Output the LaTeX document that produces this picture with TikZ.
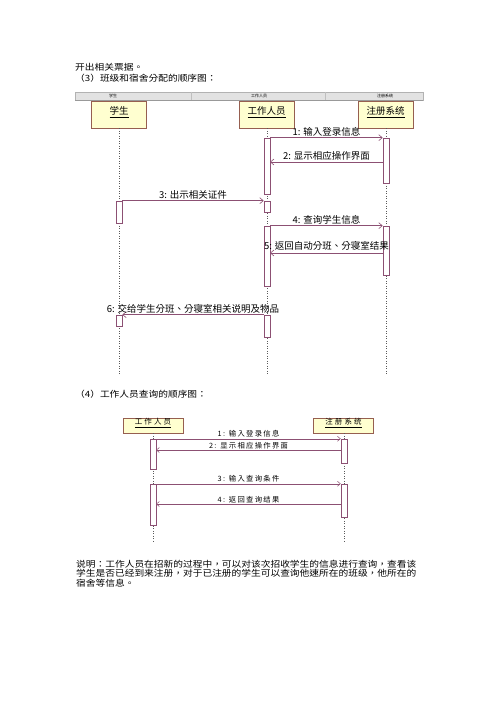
\documentclass[tikz,border=0pt]{standalone}
\usepackage{fontspec}
\usepackage{graphicx}
\setmainfont{Noto Sans CJK TC}
\newfontfamily\cjksp[LetterSpace=18]{Noto Sans CJK TC}
\newfontfamily\cjkspb[LetterSpace=28]{Noto Sans CJK TC}
\usetikzlibrary{arrows.meta}
\definecolor{msgc}{RGB}{140,80,115}
\definecolor{boxfill}{RGB}{255,255,208}
\definecolor{boxdraw}{RGB}{150,95,80}
\definecolor{bandfill}{RGB}{226,226,226}
\definecolor{lifec}{RGB}{90,90,90}
\newcommand{\wide}[1]{\scalebox{1.13}[1]{#1}}
\tikzset{
 txt/.style={anchor=west, inner sep=0pt, font=\fontsize{8.6}{8.6}\selectfont},
 band/.style={draw=gray!60, fill=bandfill, line width=0.4pt},
 bandlbl/.style={font=\fontsize{4}{4}\selectfont, inner sep=0pt},
 objbox/.style={draw=boxdraw, fill=boxfill, line width=0.7pt, inner sep=0pt, minimum width=55pt, minimum height=27pt},
 objtxt/.style={inner sep=0pt, font=\fontsize{9.5}{9.5}\selectfont},
 objboxs/.style={draw=boxdraw, fill=boxfill, line width=0.6pt, inner sep=0pt, minimum width=60pt, minimum height=15pt},
 objtxts/.style={inner sep=0pt, font=\cjkspb\fontsize{7.5}{7.5}\selectfont},
 life/.style={lifec, dotted, line width=0.5pt},
 act/.style={draw=msgc, fill=white, line width=0.6pt, minimum width=6pt, inner sep=0pt},
 msg/.style={draw=msgc, line width=0.6pt, -{Straight Barb[length=3.5pt,width=6pt]}},
 msglbl/.style={font=\fontsize{9.5}{9.5}\selectfont, inner sep=1.2pt, text=black},
 msgs/.style={draw=msgc, line width=0.5pt, -{Straight Barb[length=3pt,width=5pt]}},
 msglbls/.style={font=\cjksp\fontsize{7.3}{7.3}\selectfont, inner sep=1pt, text=black},
}
\begin{document}
\begin{tikzpicture}[x=1pt,y=-1pt]
\useasboundingbox[fill=white] (0,0) rectangle (500,706);

% top text
\node[txt] (t1) at (75,67) {\wide{开出相关票据。}};
\node[txt] (t2) at (75,78) {\wide{（3）班级和宿舍分配的顺序图：}};

% header band
\draw[band] (75,92) rectangle (423,100);
\draw[gray!50, line width=0.4pt] (191,92) -- (191,100);
\draw[gray!50, line width=0.4pt] (325,92) -- (325,100);
\draw[gray!80, line width=0.5pt] (75,100) -- (423,100);
\node[bandlbl] (h1) at (113,96) {学生};
\node[bandlbl] (h2) at (259,96) {工作人员};
\node[bandlbl] (h3) at (385,96) {注册系统};

% objects
\node[objbox] (stu) at (119,114.5) {};
\node[objbox] (wrk) at (266.5,114.5) {};
\node[objbox] (reg) at (385.5,114.5) {};
\node[objtxt] (stuT) at (119,112) {\underline{学生}};
\node[objtxt] (wrkT) at (266.5,112) {\underline{工作人员}};
\node[objtxt] (regT) at (385.5,112) {\underline{注册系统}};

% lifelines
\coordinate (stuE) at (119,375);
\coordinate (wrkE) at (267,375);
\coordinate (regE) at (386,375);
\draw[life] (stu.south -| stuE) -- (stuE);
\draw[life] (wrk.south -| wrkE) -- (wrkE);
\draw[life] (reg.south -| regE) -- (regE);

% activations
\node[act, minimum height=56pt] (A1) at (267,166) {};
\node[act, minimum height=11pt] (A2) at (267,206.5) {};
\node[act, minimum height=60pt] (A3) at (267,256) {};
\node[act, minimum height=22pt] (A4) at (267,326) {};
\node[act, minimum height=45pt] (B1) at (386,160.5) {};
\node[act, minimum height=49pt] (B2) at (386,250.5) {};
\node[act, minimum height=22pt] (C1) at (119,212) {};
\node[act, minimum height=11pt] (C2) at (119,320.5) {};

% messages
\draw[msg] (A1.north east) -- (B1.north west) node[midway, above, msglbl] {1: 输入登录信息};
\coordinate (m2s) at (383,162);
\coordinate (m2e) at (270,162);
\draw[msg] (m2s) -- (m2e) node[midway, above, msglbl] {2: 显示相应操作界面};
\draw[msg] (C1.north east) -- (A2.north west) node[midway, above, msglbl] {3: 出示相关证件};
\draw[msg] (A3.north east) -- (B2.north west) node[midway, above, msglbl] {4: 查询学生信息};
\coordinate (m5s) at (383,253);
\coordinate (m5e) at (270,253);
\draw[msg] (m5s) -- (m5e) node[midway, above, msglbl, inner sep=2pt] {5: 返回自动分班、分寝室结果};
\draw[msg] (A4.north west) -- (C2.north east) node[midway, above, msglbl] {6: 交给学生分班、分寝室相关说明及物品};

% section 4
\node[txt] (t3) at (75,394) {\wide{（4）工作人员查询的顺序图：}};

\node[objboxs] (wrk2) at (153,425.5) {};
\node[objboxs] (reg2) at (343.5,425.5) {};
\node[objtxts] (wrk2T) at (153,423) {\underline{工作人员}};
\node[objtxts] (reg2T) at (343.5,423) {\underline{注册系统}};

\coordinate (wrk2E) at (153,542);
\coordinate (reg2E) at (344,542);
\draw[life] (wrk2.south -| wrk2E) -- (wrk2E);
\draw[life] (reg2.south -| reg2E) -- (reg2E);

\node[act, minimum height=30pt, line width=0.5pt] (W1) at (153,454) {};
\node[act, minimum height=41pt, line width=0.5pt] (W2) at (153,504.5) {};
\node[act, minimum height=24pt, line width=0.5pt] (R1) at (344,451) {};
\node[act, minimum height=33pt, line width=0.5pt] (R2) at (344,500.5) {};

\draw[msgs] (W1.north east) -- (R1.north west) node[midway, above, msglbls] {1: 输入登录信息};
\coordinate (n2s) at (341,450);
\coordinate (n2e) at (156,450);
\draw[msgs] (n2s) -- (n2e) node[midway, above, msglbls] {2: 显示相应操作界面};
\draw[msgs] (W2.north east) -- (R2.north west) node[midway, above, msglbls] {3: 输入查询条件};
\coordinate (n4s) at (341,504);
\coordinate (n4e) at (156,504);
\draw[msgs] (n4s) -- (n4e) node[midway, above, msglbls] {4: 返回查询结果};

% paragraph
\node[txt] (p1) at (76,564) {\wide{说明：工作人员在招新的过程中，可以对该次招收学生的信息进行查询，查看该}};
\node[txt] (p2) at (76,573.5) {\wide{学生是否已经到来注册，对于已注册的学生可以查询他速所在的班级，他所在的}};
\node[txt] (p3) at (76,583) {\wide{宿舍等信息。}};
\end{tikzpicture}
\end{document}
